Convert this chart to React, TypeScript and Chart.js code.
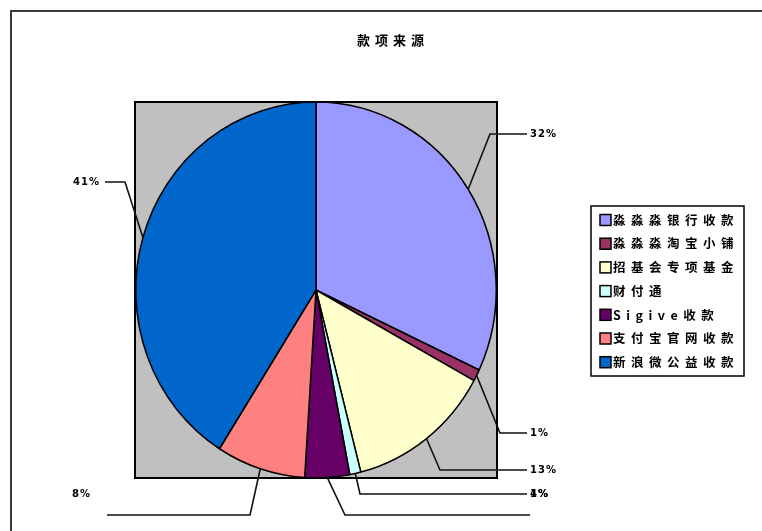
import React, { useEffect, useRef } from "react";
import { Chart, registerables } from "chart.js";

Chart.register(...registerables);

const titleText = "款项来源";
const categories = [
  "淼淼淼银行收款",
  "淼淼淼淘宝小铺",
  "招基会专项基金",
  "财付通",
  "Sigive收款",
  "支付宝官网收款",
  "新浪微公益收款",
];
const values = [32, 1, 13, 1, 4, 8, 41];
const colors = ["#9999FF", "#993366", "#FFFFCC", "#CCFFFF", "#660066", "#FF8080", "#0066CC"];

// leader-line layout, offsets relative to the chart area (plot box)
type Leader = { elbow: [number, number]; end: [number, number]; text: [number, number]; align: CanvasTextAlign };
const leaderLayout = (ca: { left: number; right: number; top: number; bottom: number }): Leader[] => [
  { elbow: [ca.right - 7, ca.top + 32], end: [ca.right + 30, ca.top + 32], text: [ca.right + 33, ca.top + 32], align: "left" },
  { elbow: [ca.right + 3, ca.top + 331], end: [ca.right + 30, ca.top + 331], text: [ca.right + 33, ca.top + 331], align: "left" },
  { elbow: [ca.right - 57, ca.top + 368], end: [ca.right + 30, ca.top + 368], text: [ca.right + 33, ca.top + 368], align: "left" },
  { elbow: [ca.right - 137, ca.top + 392], end: [ca.right + 30, ca.top + 392], text: [ca.right + 33, ca.top + 392], align: "left" },
  { elbow: [ca.right - 152, ca.top + 413], end: [ca.right + 33, ca.top + 413], text: [ca.right + 33, ca.top + 392], align: "left" },
  { elbow: [ca.left + 115, ca.top + 413], end: [ca.left - 28, ca.top + 413], text: [ca.left - 63, ca.top + 392], align: "left" },
  { elbow: [ca.left - 10, ca.top + 80], end: [ca.left - 30, ca.top + 80], text: [ca.left - 35, ca.top + 80], align: "right" },
];

const ellipseScale = (chart: any) => {
  const meta = chart.getDatasetMeta(0);
  const arc: any = meta.data[0];
  if (!arc) return { cx: 0, cy: 0, sy: 1 };
  const p = arc.getProps(["x", "y", "outerRadius"], true);
  const half = (chart.chartArea.bottom - chart.chartArea.top) / 2;
  return { cx: p.x, cy: p.y, sy: half / p.outerRadius };
};

const decorPlugin = {
  id: "decor",
  beforeDraw(chart: any) {
    const { ctx, chartArea: ca, width, height } = chart;
    ctx.save();
    ctx.fillStyle = "#ffffff";
    ctx.fillRect(0, 0, width, height);
    ctx.strokeStyle = "#3a3a3a";
    ctx.lineWidth = 2;
    ctx.strokeRect(11, 11, width + 20, height + 20);
    ctx.fillStyle = "#C0C0C0";
    ctx.fillRect(ca.left, ca.top, ca.right - ca.left, ca.bottom - ca.top);
    ctx.strokeStyle = "#000000";
    ctx.lineWidth = 2;
    ctx.strokeRect(ca.left, ca.top, ca.right - ca.left, ca.bottom - ca.top);
    ctx.restore();
  },
  beforeDatasetsDraw(chart: any) {
    const { ctx } = chart;
    const { cx, cy, sy } = ellipseScale(chart);
    ctx.save();
    ctx.translate(cx, cy);
    ctx.scale(1, sy);
    ctx.translate(-cx, -cy);
  },
  afterDatasetsDraw(chart: any) {
    const { ctx, chartArea: ca } = chart;
    ctx.restore();
    const { cy, sy } = ellipseScale(chart);
    const meta = chart.getDatasetMeta(0);
    const layout = leaderLayout(ca);
    ctx.save();
    // leader lines + labels
    meta.data.forEach((arc: any, i: number) => {
      const p = arc.getProps(["x", "y", "startAngle", "endAngle", "outerRadius"], true);
      const mid = (p.startAngle + p.endAngle) / 2;
      const sx = p.x + Math.cos(mid) * p.outerRadius;
      const syy = cy + Math.sin(mid) * p.outerRadius * sy;
      const L = layout[i];
      ctx.strokeStyle = "#111111";
      ctx.lineWidth = 1.6;
      ctx.beginPath();
      ctx.moveTo(sx, syy);
      ctx.lineTo(L.elbow[0], L.elbow[1]);
      ctx.lineTo(L.end[0], L.end[1]);
      ctx.stroke();
      ctx.fillStyle = "#000000";
      ctx.font = "bold 10px 'DejaVu Sans'";
      (ctx as any).letterSpacing = "1px";
      ctx.textAlign = L.align;
      ctx.textBaseline = "middle";
      ctx.fillText(values[i] + "%", L.text[0], L.text[1]);
    });
    // title
    (ctx as any).letterSpacing = "5px";
    ctx.font = "bold 13px 'Noto Sans CJK SC'";
    ctx.textAlign = "center";
    ctx.textBaseline = "middle";
    ctx.fillStyle = "#000000";
    ctx.fillText(titleText, 393, 40);
    // legend
    const lx = 591, ly = 206, lw = 153, lh = 170;
    ctx.fillStyle = "#ffffff";
    ctx.fillRect(lx, ly, lw, lh);
    ctx.strokeStyle = "#000000";
    ctx.lineWidth = 1.5;
    ctx.strokeRect(lx, ly, lw, lh);
    (ctx as any).letterSpacing = "5.5px";
    ctx.font = "bold 12.5px 'Noto Sans CJK SC'";
    ctx.textAlign = "left";
    categories.forEach((c, i) => {
      const cy2 = 220 + i * 23.7;
      ctx.fillStyle = colors[i];
      ctx.fillRect(600, cy2 - 5.5, 11, 11);
      ctx.strokeStyle = "#000000";
      ctx.lineWidth = 1.5;
      ctx.strokeRect(600, cy2 - 5.5, 11, 11);
      ctx.fillStyle = "#000000";
      ctx.fillText(c, 613, cy2);
    });
    ctx.restore();
  },
};

export default function App() {
  const ref = useRef<HTMLCanvasElement>(null);
  useEffect(() => {
    if (!ref.current) return;
    const chart = new Chart(ref.current, {
      type: "pie",
      data: {
        labels: categories,
        datasets: [
          {
            data: values,
            backgroundColor: colors,
            borderColor: "#000000",
            borderWidth: 1.5,
          },
        ],
      },
      options: {
        responsive: false,
        animation: false,
        devicePixelRatio: 1,
        layout: { padding: { left: 135, top: 102, right: 265, bottom: 53 } },
        plugins: {
          legend: { display: false },
          tooltip: { enabled: false },
          title: { display: false },
        },
      },
      plugins: [decorPlugin],
    });
    return () => chart.destroy();
  }, []);
  return (
    <div style={{ position: "absolute", left: 0, top: 0, width: 762, height: 531, background: "#fff" }}>
      <canvas ref={ref} width={762} height={531} style={{ width: 762, height: 531 }} />
    </div>
  );
}
